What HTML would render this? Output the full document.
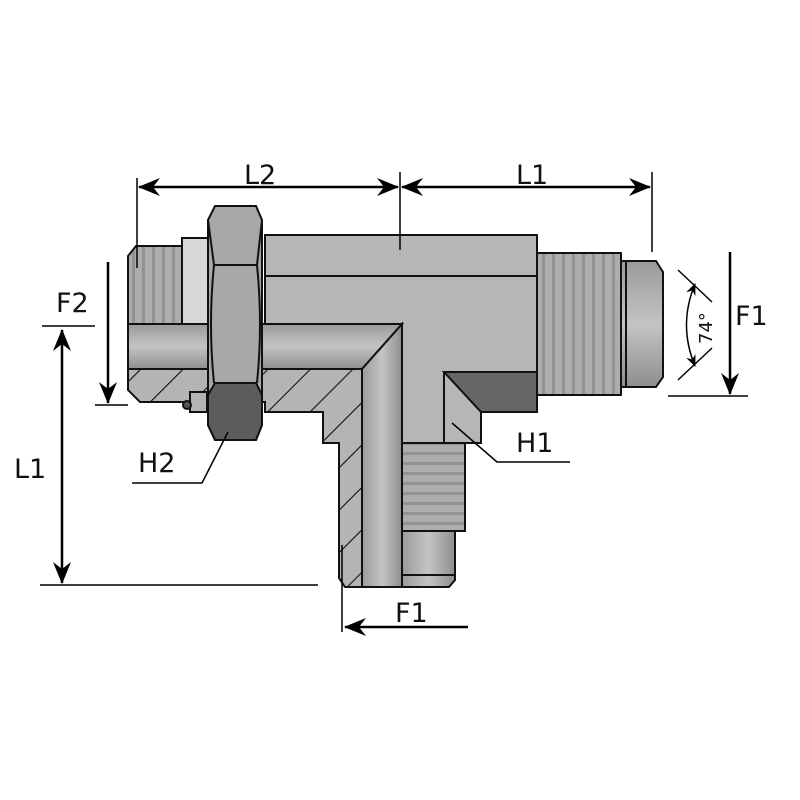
<!DOCTYPE html>
<html><head><style>
html,body{margin:0;padding:0;background:#fff;}
svg{display:block;}
text{font-family:"DejaVu Sans","Liberation Sans",sans-serif;fill:#111;}
</style></head><body>
<svg width="800" height="800" viewBox="0 0 800 800" xmlns="http://www.w3.org/2000/svg">
<defs>
<linearGradient id="gv" x1="0" y1="0" x2="0" y2="1">
<stop offset="0" stop-color="#9a9a9a"/><stop offset="0.5" stop-color="#c4c4c4"/><stop offset="1" stop-color="#8e8e8e"/></linearGradient>
<linearGradient id="gh" x1="0" y1="0" x2="1" y2="0">
<stop offset="0" stop-color="#9a9a9a"/><stop offset="0.5" stop-color="#c4c4c4"/><stop offset="1" stop-color="#8e8e8e"/></linearGradient>
<pattern id="thV" width="10" height="10" patternUnits="userSpaceOnUse">
<rect width="10" height="10" fill="#adadad"/><rect x="2" width="3" height="10" fill="#929292"/></pattern>
<pattern id="thH" width="10" height="10" patternUnits="userSpaceOnUse">
<rect width="10" height="10" fill="#adadad"/><rect y="2" width="10" height="3" fill="#929292"/></pattern>
<pattern id="hatch" width="30" height="30" patternUnits="userSpaceOnUse" patternTransform="rotate(45)">
<rect width="30" height="30" fill="#b4b4b4"/><line x1="0" y1="0" x2="0" y2="30" stroke="#111" stroke-width="2.2"/></pattern>
<marker id="ar" markerWidth="22" markerHeight="18" refX="21" refY="9" orient="auto" markerUnits="userSpaceOnUse"><path d="M0,0 L22,9 L0,18 L7,9z" fill="#000"/></marker>
<marker id="al" markerWidth="22" markerHeight="18" refX="1" refY="9" orient="auto" markerUnits="userSpaceOnUse"><path d="M22,0 L0,9 L22,18 L15,9z" fill="#000"/></marker>
<marker id="sr" markerWidth="12" markerHeight="10" refX="11" refY="5" orient="auto" markerUnits="userSpaceOnUse"><path d="M0,0 L12,5 L0,10 L4,5z" fill="#000"/></marker>
<marker id="sl" markerWidth="12" markerHeight="10" refX="1" refY="5" orient="auto" markerUnits="userSpaceOnUse"><path d="M12,0 L0,5 L12,10 L8,5z" fill="#000"/></marker>
</defs>
<g stroke="#111" stroke-width="2">
<path d="M136,246 L182,246 L182,324 L128,324 L128,256z" fill="url(#thV)"/>
<rect x="182" y="238" width="26" height="86" fill="#d8d8d8"/>
<path d="M265,235 L537,235 L537,412 L481,412 L481,443 L402,443 L402,324 L265,324z" fill="#b6b6b6"/>
<line x1="265" y1="276" x2="537" y2="276"/>
<path d="M444,372 L537,372 L537,412 L481,412z" fill="#666"/>
<line x1="444" y1="372" x2="444" y2="443"/>
<path d="M128,324 L402,324 L362,369 L128,369z" fill="url(#gv)"/>
<path d="M128,369 L362,369 L362,587 L345,587 L339,578 L339,443 L323,443 L323,412 L265,412 L265,402 L140,402 L128,390z" fill="url(#hatch)"/>
<path d="M362,369 L402,324 L402,587 L362,587z" fill="url(#gh)"/>
<rect x="537" y="253" width="84" height="142" fill="url(#thV)"/>
<path d="M621,261 L656,261 L663,272 L663,377 L656,387 L621,387z" fill="url(#gv)"/>
<line x1="626" y1="261" x2="626" y2="387"/>
<rect x="402" y="443" width="63" height="88" fill="url(#thH)"/>
<path d="M402,531 L455,531 L455,580 L449,587 L402,587z" fill="url(#gh)"/>
<line x1="402" y1="575" x2="455" y2="575"/>
<path d="M190,392 L207,392 L207,412 L190,412z" fill="#b4b4b4"/>
<circle cx="187" cy="405" r="4" fill="#555"/>
<path d="M215,206 L256,206 L262,220 L262,425 L256,440 L215,440 L208,425 L208,220z" fill="#a8a8a8"/>
<path d="M208,220 L214,265 L257,265 L262,220" fill="none"/>
<path d="M215,383 L256,383 L262,395 L262,425 L256,440 L215,440 L208,425 L208,395z" fill="#5c5c5c"/>
<path d="M214,265 Q208,324 214,383 M257,265 Q263,324 257,383" fill="none"/>
</g>
<g stroke="#000" stroke-width="1.5" fill="none">
<line x1="137" y1="178" x2="137" y2="268"/>
<line x1="400" y1="172" x2="400" y2="250"/>
<line x1="652" y1="172" x2="652" y2="252"/>
<line x1="139" y1="187" x2="398" y2="187" stroke-width="2.5" marker-start="url(#al)" marker-end="url(#ar)"/>
<line x1="402" y1="187" x2="650" y2="187" stroke-width="2.5" marker-start="url(#al)" marker-end="url(#ar)"/>
<line x1="730" y1="252" x2="730" y2="394" stroke-width="2.5" marker-end="url(#ar)"/>
<line x1="668" y1="396" x2="748" y2="396"/>
<line x1="108" y1="262" x2="108" y2="403" stroke-width="2.5" marker-end="url(#ar)"/>
<line x1="95" y1="405" x2="128" y2="405"/>
<line x1="42" y1="326" x2="95" y2="326"/>
<line x1="62" y1="330" x2="62" y2="583" stroke-width="2.5" marker-start="url(#al)" marker-end="url(#ar)"/>
<line x1="40" y1="585" x2="318" y2="585"/>
<line x1="342" y1="545" x2="342" y2="632"/>
<line x1="468" y1="627" x2="345" y2="627" stroke-width="2.5" marker-end="url(#ar)"/>
<polyline points="228,432 202,483 132,483"/>
<polyline points="452,423 497,462 570,462"/>
<line x1="678" y1="270" x2="712" y2="302"/>
<line x1="678" y1="380" x2="712" y2="348"/>
<path d="M695,284 Q678,325 695,366" marker-start="url(#sl)" marker-end="url(#sr)"/>
</g>
<g font-size="27">
<text x="244" y="184">L2</text>
<text x="516" y="184">L1</text>
<text x="735" y="325">F1</text>
<text x="56" y="312">F2</text>
<text x="14" y="478">L1</text>
<text x="138" y="472">H2</text>
<text x="516" y="452">H1</text>
<text x="395" y="622">F1</text>
</g>
<text x="0" y="0" font-size="18" transform="translate(712,344) rotate(-90)">74°</text>
</svg>
</body></html>
